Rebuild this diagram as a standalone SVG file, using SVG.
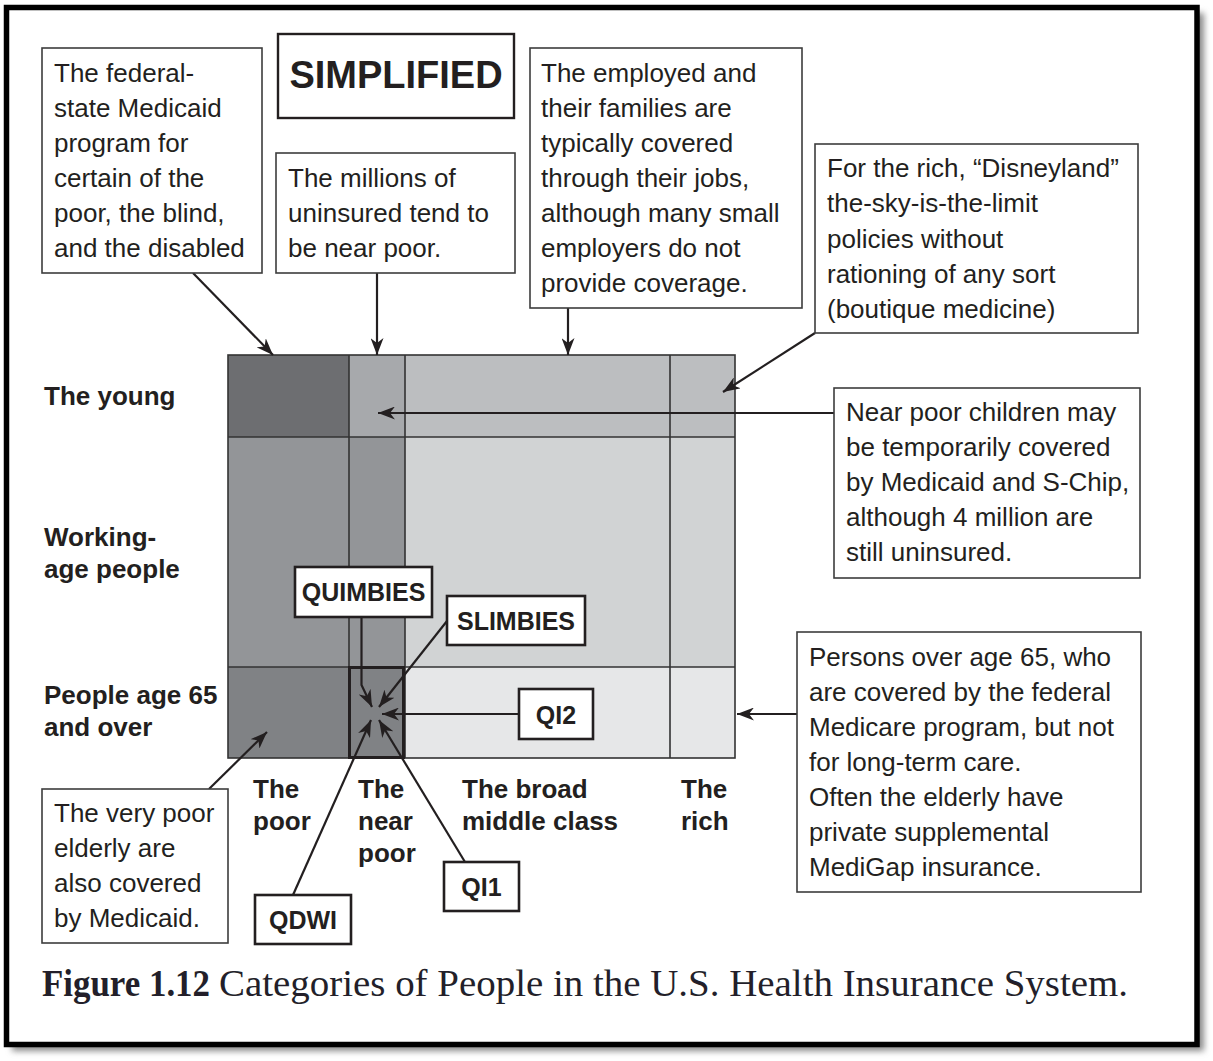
<svg xmlns="http://www.w3.org/2000/svg" width="1213" height="1061" viewBox="0 0 1213 1061">
  <defs>
    <filter id="shadow" x="-5%" y="-5%" width="110%" height="110%">
      <feGaussianBlur stdDeviation="3"/>
    </filter>
    <marker id="arr" viewBox="0 0 17 13" refX="17" refY="6.5" markerWidth="17" markerHeight="13" markerUnits="userSpaceOnUse" orient="auto">
      <path d="M0,0 L17,6.5 L0,13 L5,6.5 Z" fill="#231f20"/>
    </marker>
    <style>
      .box { fill: #ffffff; stroke: #3d3d3d; stroke-width: 1.6; }
      .lbl { fill: #ffffff; stroke: #231f20; stroke-width: 2.6; }
      .txt { font-family: "Liberation Sans", Arial, sans-serif; font-size: 26px; fill: #231f20; }
      .bold { font-family: "Liberation Sans", Arial, sans-serif; font-weight: bold; font-size: 26px; fill: #231f20; }
      .tag { font-family: "Liberation Sans", Arial, sans-serif; font-weight: bold; font-size: 25px; fill: #231f20; text-anchor: middle; }
      .grid { stroke: #333333; stroke-width: 1.6; fill: none; }
      .conn { stroke: #231f20; stroke-width: 2.2; fill: none; marker-end: url(#arr); }
      .cap { font-family: "Liberation Serif", "Times New Roman", serif; font-size: 37px; fill: #231f2a; }
    </style>
  </defs>

  <rect x="0" y="0" width="1213" height="1061" fill="#ffffff"/>
  <!-- frame with shadow -->
  <rect x="12" y="13" width="1192" height="1038" fill="#8a8a8a" filter="url(#shadow)"/>
  <rect x="6.5" y="7.5" width="1190.5" height="1037" fill="#ffffff" stroke="#000000" stroke-width="5.5"/>

  <!-- grid -->
  <g id="grid">
    <rect x="228" y="355" width="121" height="82" fill="#6d6e71"/>
    <rect x="349" y="355" width="56" height="82" fill="#a7a9ac"/>
    <rect x="405" y="355" width="330" height="82" fill="#bcbec0"/>
    <rect x="228" y="437" width="177" height="230" fill="#939598"/>
    <rect x="405" y="437" width="330" height="230" fill="#d1d3d4"/>
    <rect x="228" y="667" width="177" height="91" fill="#808285"/>
    <rect x="405" y="667" width="330" height="91" fill="#e6e7e8"/>
    <rect class="grid" x="228" y="355" width="507" height="403"/>
    <path class="grid" d="M349,355 V758 M405,355 V758 M670,355 V758 M228,437 H735 M228,667 H735"/>
    <rect x="349.5" y="667.5" width="54" height="90" fill="none" stroke="#231f20" stroke-width="3"/>
  </g>

  <!-- row labels -->
  <g id="row-labels">
    <text class="bold" x="44" y="405">The young</text>
    <text class="bold" x="44" y="546">Working-</text>
    <text class="bold" x="44" y="578">age people</text>
    <text class="bold" x="44" y="704">People age 65</text>
    <text class="bold" x="44" y="736">and over</text>
  </g>

  <!-- column labels -->
  <g id="col-labels">
    <text class="bold" x="253" y="798">The</text>
    <text class="bold" x="253" y="830">poor</text>
    <text class="bold" x="358" y="798">The</text>
    <text class="bold" x="358" y="830">near</text>
    <text class="bold" x="358" y="862">poor</text>
    <text class="bold" x="462" y="798">The broad</text>
    <text class="bold" x="462" y="830">middle class</text>
    <text class="bold" x="681" y="798">The</text>
    <text class="bold" x="681" y="830">rich</text>
  </g>

  <!-- connectors -->
  <g id="connectors">
    <line class="conn" x1="193" y1="273" x2="273" y2="355"/>
    <line class="conn" x1="377" y1="273" x2="377" y2="355"/>
    <line class="conn" x1="568" y1="308" x2="568" y2="355"/>
    <line class="conn" x1="815" y1="333" x2="723" y2="392"/>
    <line class="conn" x1="834" y1="413" x2="378" y2="413"/>
    <line class="conn" x1="797" y1="714" x2="737" y2="714"/>
    <line class="conn" x1="209" y1="789" x2="267" y2="732"/>
    <path class="conn" d="M361.5,617 V685 L372,707"/>
    <line class="conn" x1="447" y1="621" x2="379" y2="707"/>
    <line class="conn" x1="519" y1="714" x2="382" y2="714"/>
    <line class="conn" x1="465" y1="862" x2="379" y2="720"/>
    <line class="conn" x1="293" y1="895" x2="371" y2="720"/>
  </g>

  <g id="simplified">
    <rect x="278" y="34" width="236" height="84" fill="#ffffff" stroke="#231f20" stroke-width="2.4"/>
    <text x="396" y="88" text-anchor="middle" font-family="'Liberation Sans', Arial, sans-serif" font-weight="bold" font-size="38" fill="#231f20">SIMPLIFIED</text>
  </g>

  <g id="medicaid-box">
    <rect class="box" x="42" y="48" width="220" height="225"/>
    <text class="txt" x="54" y="82">The federal-</text>
    <text class="txt" x="54" y="117">state Medicaid</text>
    <text class="txt" x="54" y="152">program for</text>
    <text class="txt" x="54" y="187">certain of the</text>
    <text class="txt" x="54" y="222">poor, the blind,</text>
    <text class="txt" x="54" y="257">and the disabled</text>
  </g>

  <g id="uninsured-box">
    <rect class="box" x="276" y="153" width="239" height="120"/>
    <text class="txt" x="288" y="187">The millions of</text>
    <text class="txt" x="288" y="222">uninsured tend to</text>
    <text class="txt" x="288" y="257">be near poor.</text>
  </g>

  <g id="employed-box">
    <rect class="box" x="530" y="48" width="272" height="260"/>
    <text class="txt" x="541" y="82">The employed and</text>
    <text class="txt" x="541" y="117">their families are</text>
    <text class="txt" x="541" y="152">typically covered</text>
    <text class="txt" x="541" y="187">through their jobs,</text>
    <text class="txt" x="541" y="222">although many small</text>
    <text class="txt" x="541" y="257">employers do not</text>
    <text class="txt" x="541" y="292">provide coverage.</text>
  </g>

  <g id="rich-box">
    <rect class="box" x="815" y="144" width="323" height="189"/>
    <text class="txt" x="827" y="177">For the rich, “Disneyland”</text>
    <text class="txt" x="827" y="212">the-sky-is-the-limit</text>
    <text class="txt" x="827" y="248">policies without</text>
    <text class="txt" x="827" y="283">rationing of any sort</text>
    <text class="txt" x="827" y="318">(boutique medicine)</text>
  </g>

  <g id="children-box">
    <rect class="box" x="834" y="388" width="306" height="190"/>
    <text class="txt" x="846" y="421">Near poor children may</text>
    <text class="txt" x="846" y="456">be temporarily covered</text>
    <text class="txt" x="846" y="491">by Medicaid and S-Chip,</text>
    <text class="txt" x="846" y="526">although 4 million are</text>
    <text class="txt" x="846" y="561">still uninsured.</text>
  </g>

  <g id="medicare-box">
    <rect class="box" x="797" y="632" width="344" height="260"/>
    <text class="txt" x="809" y="666">Persons over age 65, who</text>
    <text class="txt" x="809" y="701">are covered by the federal</text>
    <text class="txt" x="809" y="736">Medicare program, but not</text>
    <text class="txt" x="809" y="771">for long-term care.</text>
    <text class="txt" x="809" y="806">Often the elderly have</text>
    <text class="txt" x="809" y="841">private supplemental</text>
    <text class="txt" x="809" y="876">MediGap insurance.</text>
  </g>

  <g id="elderly-poor-box">
    <rect class="box" x="42" y="789" width="186" height="154"/>
    <text class="txt" x="54" y="822">The very poor</text>
    <text class="txt" x="54" y="857">elderly are</text>
    <text class="txt" x="54" y="892">also covered</text>
    <text class="txt" x="54" y="927">by Medicaid.</text>
  </g>

  <g id="quimbies">
    <rect class="lbl" x="295" y="567" width="137" height="50"/>
    <text class="tag" x="363.5" y="601">QUIMBIES</text>
  </g>
  <g id="slimbies">
    <rect class="lbl" x="447" y="596" width="138" height="49"/>
    <text class="tag" x="516" y="630">SLIMBIES</text>
  </g>
  <g id="qi2">
    <rect class="lbl" x="519" y="689" width="74" height="50"/>
    <text class="tag" x="556" y="724">QI2</text>
  </g>
  <g id="qi1">
    <rect class="lbl" x="444" y="862" width="75" height="49"/>
    <text class="tag" x="481.5" y="896">QI1</text>
  </g>
  <g id="qdwi">
    <rect class="lbl" x="255" y="895" width="96" height="49"/>
    <text class="tag" x="303" y="929">QDWI</text>
  </g>

  <g id="caption">
    <text class="cap" x="42" y="996" font-weight="bold" textLength="168" lengthAdjust="spacingAndGlyphs">Figure 1.12</text>
    <text class="cap" x="219" y="996" textLength="909" lengthAdjust="spacingAndGlyphs">Categories of People in the U.S. Health Insurance System.</text>
  </g>
</svg>
